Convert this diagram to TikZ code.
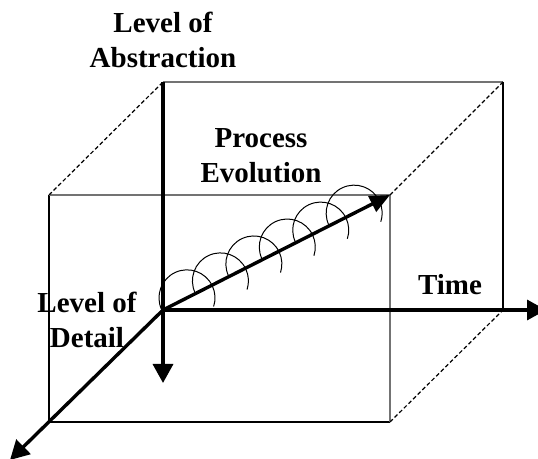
\documentclass[tikz,border=0pt]{standalone}
\usepackage{fontspec}
\setmainfont{Liberation Serif}
\usetikzlibrary{arrows.meta,calc}

\begin{document}
\begin{tikzpicture}[x=1pt,y=1pt,
  axis/.style={line width=3.4pt,-{Triangle[length=19pt,width=20pt]}},
  edge/.style={line width=1.2pt},
  greyedge/.style={line width=1.3pt,black!55},
  hidden/.style={line width=1.2pt,dash pattern=on 4pt off 2.5pt},
  loop/.style={line width=1pt},
  lab/.style={font=\bfseries\fontsize{29}{35}\selectfont,align=center,inner sep=0pt,anchor=south}]
  \useasboundingbox (0,0) rectangle (538,458);
  % corners of the box
  \coordinate (O) at (163,148);
  \coordinate (btl) at (163,376);
  \coordinate (btr) at (503,376);
  \coordinate (bbr) at (503,148);
  \coordinate (ftl) at (49,263);
  \coordinate (ftr) at (390,263);
  \coordinate (fbr) at (390,36);
  \coordinate (fbl) at (49,36);
  % free ends of the axes
  \coordinate (down) at (163,75);
  \coordinate (time) at (546,148);
  \coordinate (detail) at (10,-2);

  % back face
  \draw[greyedge] (btl) -- (btr);
  \draw[edge] (btr) -- (bbr);
  % front face
  \draw[edge] (ftl) -- (fbl) -- (fbr);
  \draw[greyedge] (ftl) -- (ftr) -- (fbr);
  % hidden edges
  \draw[hidden] (ftl) -- (btl);
  \draw[hidden] (ftr) -- (btr);
  \draw[hidden] (fbr) -- (bbr);

  % spiral
  \foreach \i in {0,...,5}{
    \coordinate (c\i) at ($(O)!0.1057+0.1473*\i!(ftr)$);
    \draw[loop] (c\i) ++(205:28) arc[start angle=205,end angle=-18,radius=28];
  }

  % axes
  \draw[axis] (btl) -- (down);
  \draw[axis] (O) -- (time);
  \draw[axis] (O) -- (detail);
  \draw[line width=3.4pt,-{Triangle[length=20pt,width=17pt]}] (O) -- (ftr);

  \node[lab] (abs) at (163,390) {Level of\\Abstraction};
  \node[lab] (evo) at (261,275) {Process\\Evolution};
  \node[lab] (tim) at (450,163) {Time};
  \node[lab] (det) at (87,110) {Level of\\Detail};
\end{tikzpicture}
\end{document}
